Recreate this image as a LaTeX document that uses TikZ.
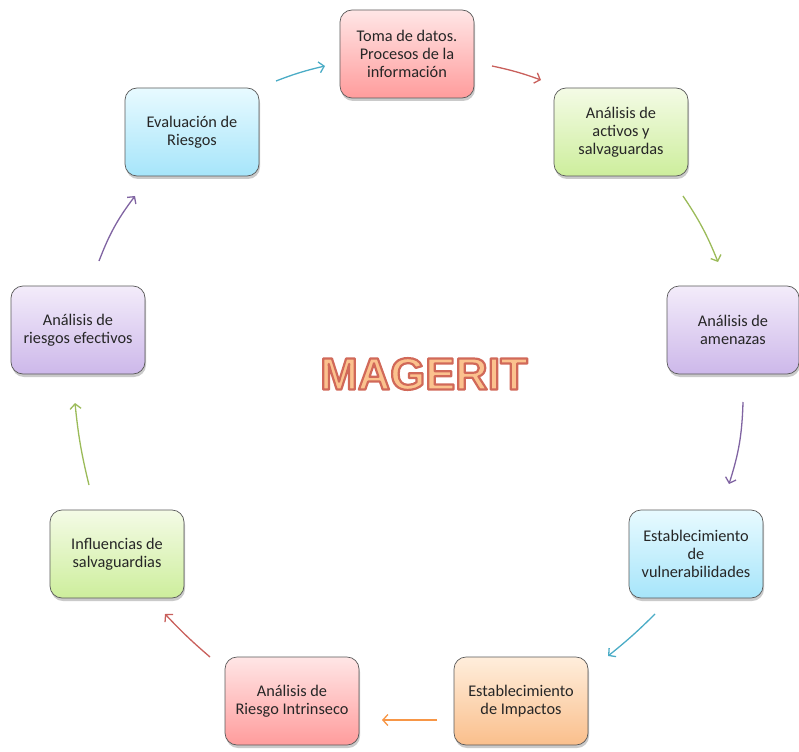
\documentclass[tikz,border=0pt]{standalone}
\usepackage{fontspec}
\setmainfont{Carlito}
\newfontfamily\magfont{Liberation Sans}
\usetikzlibrary{arrows.meta,shadows}
\definecolor{pinkT}{HTML}{FFE6E6}\definecolor{pinkB}{HTML}{FF9C9C}
\definecolor{greenT}{HTML}{F4FBE6}\definecolor{greenB}{HTML}{CDEE9C}
\definecolor{purpT}{HTML}{F3ECFA}\definecolor{purpB}{HTML}{CDB8EA}
\definecolor{cyanT}{HTML}{E8FAFF}\definecolor{cyanB}{HTML}{A6E5FA}
\definecolor{oranT}{HTML}{FFEEDC}\definecolor{oranB}{HTML}{FABF8C}
\definecolor{acyan}{HTML}{4BACC6}\definecolor{ared}{HTML}{C9605C}
\definecolor{agreen}{HTML}{9BBB59}\definecolor{apurp}{HTML}{8064A2}
\definecolor{aoran}{HTML}{F79646}
\definecolor{magfill}{HTML}{FBC28E}
\newcommand{\outlinedtext}[1]{\special{pdf:literal direct 2 Tr 2.2 w 1 j 0.82 0.41 0.35 RG}#1\special{pdf:literal direct 0 Tr}}
\tikzset{
  box/.style={draw=black!65, line width=0.7pt, rounded corners=12pt,
    minimum width=134pt, minimum height=88pt, align=center,
    font=\fontsize{16.3pt}{18pt}\selectfont, text=black!85,
    drop shadow={shadow xshift=1pt, shadow yshift=-3pt, opacity=0.35, fill=black!60}},
  pinkbox/.style={box, top color=pinkT, bottom color=pinkB},
  greenbox/.style={box, top color=greenT, bottom color=greenB},
  purpbox/.style={box, top color=purpT, bottom color=purpB},
  cyanbox/.style={box, top color=cyanT, bottom color=cyanB},
  oranbox/.style={box, top color=oranT, bottom color=oranB},
  conn/.style={line width=1.3pt, -{Straight Barb[length=5pt,width=11pt,line width=1.3pt]}}
}
\begin{document}
\begin{tikzpicture}[x=1pt,y=1pt]
\useasboundingbox (0,0) rectangle (799,-751);
\node[pinkbox] (toma) at (407,-54) {Toma de datos.\\Procesos de la\\información};
\node[greenbox] (activos) at (621,-132) {Análisis de\\activos y\\salvaguardas};
\node[purpbox, minimum width=132pt] (amenazas) at (733,-330) {Análisis de\\amenazas};
\node[cyanbox] (vuln) at (696,-554) {Establecimiento\\de\\vulnerabilidades};
\node[oranbox] (impactos) at (521,-701) {Establecimiento\\de Impactos};
\node[pinkbox] (intrinseco) at (292,-701) {Análisis de\\Riesgo Intrinseco};
\node[greenbox] (influencias) at (117,-554) {Influencias de\\salvaguardias};
\node[purpbox] (efectivos) at (78,-330) {Análisis de\\riesgos efectivos};
\node[cyanbox] (evaluacion) at (192,-132) {Evaluación de\\Riesgos};

\node[text=magfill] (mag) at (424,-374) {\magfont\bfseries\fontsize{45pt}{45pt}\selectfont\outlinedtext{MAGERIT}};

\coordinate (a1s) at (276,-81);  \coordinate (a1e) at (325,-66);
\coordinate (a2s) at (492,-66);  \coordinate (a2e) at (541,-80);
\coordinate (a3s) at (683,-196); \coordinate (a3e) at (718,-262);
\coordinate (a4s) at (743,-402); \coordinate (a4e) at (729,-484);
\coordinate (a5s) at (655,-614); \coordinate (a5e) at (608,-656);
\coordinate (a6s) at (437,-720); \coordinate (a6e) at (382,-720);
\coordinate (a7s) at (210,-657); \coordinate (a7e) at (165,-614);
\coordinate (a8s) at (89,-485);  \coordinate (a8e) at (75,-403);
\coordinate (a9s) at (99,-261);  \coordinate (a9e) at (135,-196);

\draw[conn, acyan] (a1s) to[bend left=4] (a1e);
\draw[conn, ared] (a2s) to[bend left=4] (a2e);
\draw[conn, agreen] (a3s) to[bend left=6] (a3e);
\draw[conn, apurp] (a4s) to[bend left=8] (a4e);
\draw[conn, acyan] (a5s) to[bend left=3] (a5e);
\draw[conn, aoran] (a6s) to (a6e);
\draw[conn, ared] (a7s) to[bend left=3] (a7e);
\draw[conn, agreen] (a8s) to[bend left=4] (a8e);
\draw[conn, apurp] (a9s) to[bend left=8] (a9e);
\end{tikzpicture}
\end{document}
